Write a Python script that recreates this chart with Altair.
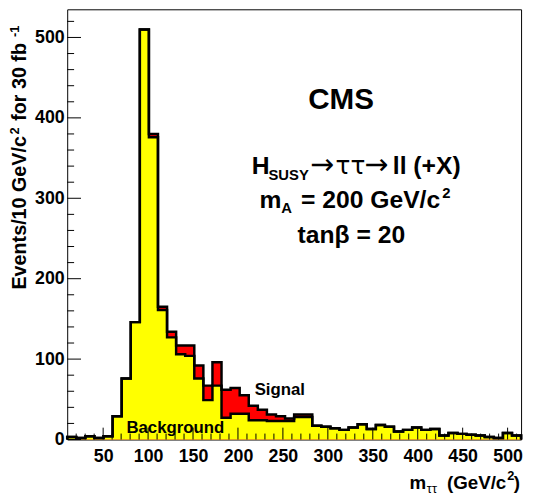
import altair as alt
import pandas as pd

FONT = "Liberation Sans"

# histogram binning: 50 bins of 10.1 GeV/c^2 from 10 to 515
bin_start = 10.0
bin_width = 10.1
n_bins = 50

background = [3, 2, 4, 2, 4, 29, 76, 146, 510, 376,
              161, 127, 106, 104, 76, 49, 67, 27, 32, 32,
              24, 24, 23, 23, 23, 28, 28, 17, 16, 14,
              12, 15, 19, 13, 18, 16, 10, 12, 15, 12,
              13, 5, 8, 7, 6, 5, 3, 2, 8, 5]
signal = [0, 0, 0, 0, 0, 0, 0, 0, 0, 4,
          4, 7, 11, 13, 16, 18, 29, 35, 32, 23,
          18, 13, 8, 6, 3, 3, 3, 0, 0, 0,
          0, 0, 0, 0, 0, 0, 0, 0, 0, 0,
          0, 0, 0, 0, 0, 0, 0, 0, 0, 0]

x_major = [50, 100, 150, 200, 250, 300, 350, 400, 450, 500]
x_minor = [v for v in range(20, 515, 10) if v % 50 != 0]
y_major = [0, 100, 200, 300, 400, 500]
y_minor = [v for v in range(20, 535, 20) if v % 100 != 0]

edges = [bin_start + i * bin_width for i in range(n_bins + 1)]
total = [b + s for b, s in zip(background, signal)]


def outline(vals):
    xs = [edges[0]] + edges[:-1] + [edges[-1]]
    ys = [0] + list(vals) + [0]
    return pd.DataFrame({"x": xs, "y": ys, "i": list(range(len(xs)))})


def fill_data(vals):
    return pd.DataFrame({"x": edges, "y": list(vals) + [vals[-1]], "base": [0] * len(edges)})


xscale = alt.Scale(domain=[10, 515], nice=False, zero=False)
yscale = alt.Scale(domain=[0, 535], nice=False, zero=False)
xaxis = alt.Axis(values=x_major, title=None, labelPadding=8, grid=False,
                 ticks=False, domain=False, labelFlush=False)
yaxis = alt.Axis(values=y_major, title=None, labelPadding=3, grid=False,
                 ticks=False, domain=False, labelFlush=False)


def filled(vals, color):
    return alt.Chart(fill_data(vals)).mark_area(
        interpolate="step-after", color=color, opacity=1).encode(
        x=alt.X("x:Q", scale=xscale, axis=xaxis),
        y=alt.Y("y:Q", scale=yscale, axis=yaxis, stack=None),
        y2="base:Q")


def step(vals):
    return alt.Chart(outline(vals)).mark_line(
        interpolate="step-after", color="black", strokeWidth=2.5).encode(
        x=alt.X("x:Q", scale=xscale, axis=xaxis),
        y=alt.Y("y:Q", scale=yscale, axis=yaxis),
        order="i:Q")


def yticks(vals, length):
    return alt.Chart(pd.DataFrame({"v": vals})).mark_rule(color="black", strokeWidth=1).encode(
        y=alt.Y("v:Q", scale=yscale, axis=yaxis), x=alt.value(0), x2=alt.value(length))


def xticks(vals, length):
    return alt.Chart(pd.DataFrame({"v": vals})).mark_rule(color="black", strokeWidth=1).encode(
        x=alt.X("v:Q", scale=xscale, axis=xaxis), y=alt.value(436), y2=alt.value(436 - length))


one = pd.DataFrame({"a": [0]})


def label(text, x, y, size, weight="bold", align="left", angle=None, font=FONT):
    kw = dict(text=text, fontSize=size, fontWeight=weight, font=font, align=align,
              baseline="alphabetic", color="black")
    if angle is not None:
        kw["angle"] = angle
    return alt.Chart(one).mark_text(**kw).encode(x=alt.value(x), y=alt.value(y))


texts = [
    label("CMS", 277.5, 101, 30, align="center"),
    label("H", 187, 167, 25),
    label("SUSY", 204, 173, 15),
    label("\u2192", 246, 167, 29, weight="normal", font="DejaVu Sans"),
    label("\u03c4\u03c4", 272, 167, 25, weight="normal", font="DejaVu Sans"),
    label("\u2192", 301, 167, 29, weight="normal", font="DejaVu Sans"),
    label("ll (+X)", 330, 167, 25),
    label("m", 195, 201, 25),
    label("A", 217, 206, 15),
    label("= 200 GeV/c", 378, 201, 25, align="right"),
    label("2", 380, 191, 15),
    label("tan\u03b2 = 20", 288, 237, 25, align="center"),
    label("Signal", 190, 391, 17),
    label("Background", 60, 429, 17),
    label("m", 347, 485.7, 19),
    label("\u03c4\u03c4", 364.5, 490, 13, weight="normal"),
    label("(GeV/c", 445, 485.7, 19, align="right"),
    label("2", 446, 477, 13),
    label(")", 459, 485.7, 19, align="right"),
    label("Events/10 GeV/c", -42, 284, 20, angle=270),
    label("2", -49, 127, 13, angle=270),
    label("for 30 fb", -42, 113, 20, angle=270),
    label("-1", -49, 28, 13, angle=270),
]

chart = alt.layer(
    filled(total, "#ff0000"), filled(background, "#ffff00"),
    step(total), step(background),
    yticks(y_major, 14), yticks(y_minor, 7),
    xticks(x_major, 12), xticks(x_minor, 6),
    *texts
).properties(
    width=460, height=436,
    autosize=alt.AutoSizeParams(type="none"),
    padding={"left": 60, "top": -2, "right": 6, "bottom": 60},
).configure_view(
    stroke="black", strokeWidth=1
).configure_axis(
    labelFont=FONT, labelFontSize=18, labelFontWeight="bold", labelColor="black"
)

chart.save("out.html", embed_options={"renderer": "svg", "actions": False})
